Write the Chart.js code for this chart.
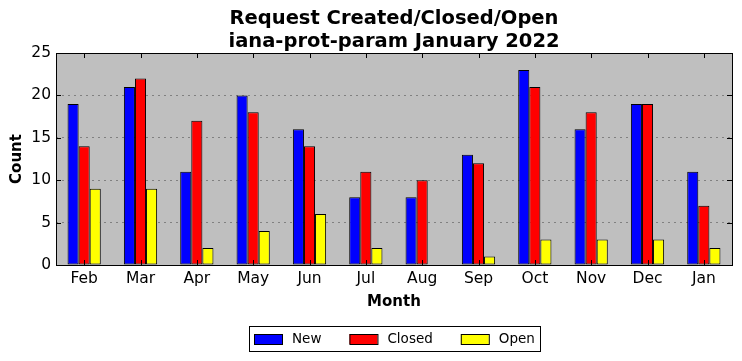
<!DOCTYPE html>
<html>
<head>
<meta charset="utf-8">
<script src="https://cdn.jsdelivr.net/npm/chart.js@4/dist/chart.umd.min.js"></script>
<style>
  html, body { margin: 0; padding: 0; background: #fff; }
  #wrap { width: 742px; height: 361px; }
</style>
</head>
<body>
<div id="wrap"><canvas id="chart"></canvas></div>
<script>
const months = ['Feb', 'Mar', 'Apr', 'May', 'Jun', 'Jul', 'Aug', 'Sep', 'Oct', 'Nov', 'Dec', 'Jan'];
const newCounts = [19, 21, 11, 20, 16, 8, 8, 13, 23, 16, 19, 11];
const closedCounts = [14, 22, 17, 18, 14, 11, 10, 12, 21, 18, 19, 7];
const openCounts = [9, 9, 2, 4, 6, 2, 0, 1, 3, 3, 3, 2];

const FONT = "'DejaVu Sans', sans-serif";

// grey plot background, frame, inward ticks, boxed legend under the axis
const framePlugin = {
    id: 'frame',
    beforeDraw(chart) {
        const a = chart.chartArea;
        const ctx = chart.ctx;
        ctx.save();
        ctx.fillStyle = '#bfbfbf';
        ctx.fillRect(a.left, a.top, a.right - a.left, a.bottom - a.top);
        ctx.restore();
    },
    afterDraw(chart) {
        const a = chart.chartArea;
        const ctx = chart.ctx;
        const xs = chart.scales.x;
        const ys = chart.scales.y;
        ctx.save();
        ctx.strokeStyle = '#000';
        ctx.lineWidth = 1;
        ctx.beginPath();
        xs.ticks.forEach((t, i) => {
            const x = Math.round(xs.getPixelForTick(i)) + 0.5;
            ctx.moveTo(x, a.bottom); ctx.lineTo(x, a.bottom - 5);
            ctx.moveTo(x, a.top); ctx.lineTo(x, a.top + 5);
        });
        ys.ticks.forEach((t, i) => {
            const y = Math.round(ys.getPixelForTick(i)) + 0.5;
            ctx.moveTo(a.left, y); ctx.lineTo(a.left + 5, y);
            ctx.moveTo(a.right, y); ctx.lineTo(a.right - 5, y);
        });
        ctx.stroke();
        ctx.strokeRect(Math.round(a.left) + 0.5, Math.round(a.top) + 0.5,
            Math.round(a.right - a.left), Math.round(a.bottom - a.top));

        // legend
        const swW = 28, swH = 10, textGap = 10, itemGap = 28, pad = 5;
        ctx.font = '13.5px ' + FONT;
        const items = chart.data.datasets.map(ds => ({
            label: ds.label, color: ds.backgroundColor, tw: ctx.measureText(ds.label).width
        }));
        let total = pad * 2;
        items.forEach((it, i) => { total += swW + textGap + it.tw + (i < items.length - 1 ? itemGap : 0); });
        const cx = (a.left + a.right) / 2;
        const boxL = Math.round(cx - total / 2);
        const boxT = 326, boxH = 25;
        ctx.strokeRect(boxL + 0.5, boxT + 0.5, Math.round(total), boxH);
        let x = boxL + pad;
        const midY = boxT + boxH / 2 + 0.5;
        ctx.textBaseline = 'middle';
        ctx.textAlign = 'left';
        items.forEach(it => {
            ctx.fillStyle = it.color;
            ctx.fillRect(x, Math.round(midY - swH / 2), swW, swH);
            ctx.strokeRect(x + 0.5, Math.round(midY - swH / 2) + 0.5, swW, swH);
            x += swW + textGap;
            ctx.fillStyle = '#000';
            ctx.fillText(it.label, x, midY);
            x += it.tw + itemGap;
        });
        ctx.restore();
    }
};

const barStyle = { borderColor: '#000', borderWidth: 1, borderSkipped: false };

new Chart(document.getElementById('chart'), {
    type: 'bar',
    data: {
        labels: months,
        datasets: [
            Object.assign({ label: 'New', data: newCounts, backgroundColor: '#0000ff' }, barStyle),
            Object.assign({ label: 'Closed', data: closedCounts, backgroundColor: '#ff0000' }, barStyle),
            Object.assign({ label: 'Open', data: openCounts, backgroundColor: '#ffff00' }, barStyle)
        ]
    },
    options: {
        responsive: true,
        maintainAspectRatio: false,
        animation: false,
        datasets: {
            bar: { categoryPercentage: 0.59, barPercentage: 1.0 }
        },
        layout: { padding: { left: 0, right: 10, top: 0, bottom: 50 } },
        scales: {
            x: {
                grid: { display: false, drawTicks: false },
                border: { display: false },
                ticks: { color: '#000', font: { family: FONT, size: 15.5 }, padding: 5 },
                title: {
                    display: true,
                    text: 'Month',
                    color: '#000',
                    font: { family: FONT, size: 15, weight: 'bold' },
                    padding: { top: 0, bottom: 0 }
                },
                afterFit(scale) { scale.height = 46; }
            },
            y: {
                min: 0,
                max: 25,
                grid: { color: '#808080', drawTicks: false },
                border: { display: false, dash: [2, 4] },
                ticks: { stepSize: 5, color: '#000', font: { family: FONT, size: 15.5 }, padding: 5 },
                title: {
                    display: true,
                    text: 'Count',
                    color: '#000',
                    font: { family: FONT, size: 15, weight: 'bold' },
                    padding: { top: 8, bottom: 0 }
                },
                afterFit(scale) { scale.width = 56; }
            }
        },
        plugins: {
            title: {
                display: true,
                fullSize: false,
                text: ['Request Created/Closed/Open', 'iana-prot-param January 2022'],
                color: '#000',
                font: { family: FONT, size: 19.5, weight: 'bold', lineHeight: '23px' },
                padding: { top: 7, bottom: 0 }
            },
            legend: { display: false },
            tooltip: { enabled: false }
        }
    },
    plugins: [framePlugin]
});
</script>
</body>
</html>
